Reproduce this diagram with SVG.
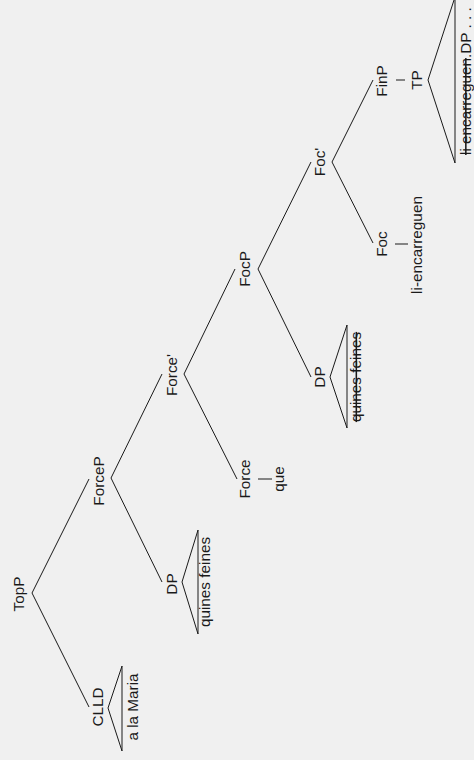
<svg xmlns="http://www.w3.org/2000/svg" width="474" height="760" viewBox="0 0 474 760">
<style>
  .bg { fill: #f0f0f0; }
  text { font-family: "Liberation Sans", Arial, sans-serif; font-size: 15.3px; fill: #1a1a1a; text-anchor: middle; }
  .ln { stroke: #1a1a1a; stroke-width: 1; fill: none; }
  .strike { text-decoration: line-through; }
</style>
<rect class="bg" x="0" y="0" width="474" height="760"/>
<g id="connectors">
  <path class="ln" d="M89,479 L32,593 L89,707"/>
  <path class="ln" d="M162,374 L111,478 L162,582"/>
  <path class="ln" d="M235,269 L184,374 L237,479"/>
  <path class="ln" d="M311,162 L258,269 L311,377"/>
  <path class="ln" d="M373,80 L332,162 L373,243"/>
  <path class="ln" d="M258,479 L272,479"/>
  <path class="ln" d="M395,244 L408,244"/>
  <path class="ln" d="M396,80 L405,80"/>
  <path class="ln" d="M122,666 L108,708 L122,751 Z"/>
  <path class="ln" d="M198,530 L182,582 L198,634 Z"/>
  <path class="ln" d="M347,325 L330,377 L347,428 Z"/>
  <path class="ln" d="M455,-3 L428,80 L455,163 Z"/>
</g>
<g id="TopP"><text transform="translate(24,594) rotate(-90)">TopP</text></g>
<g id="CLLD"><text transform="translate(103,707) rotate(-90)">CLLD</text>
  <text transform="translate(137.5,707) rotate(-90)">a la Maria</text></g>
<g id="ForceP"><text transform="translate(104,481) rotate(-90)">ForceP</text></g>
<g id="DP1"><text transform="translate(177,584) rotate(-90)">DP</text>
  <text transform="translate(210,582) rotate(-90)">quines feines</text></g>
<g id="ForceBar"><text transform="translate(177,375) rotate(-90)">Force'</text></g>
<g id="Force"><text transform="translate(250,479) rotate(-90)">Force</text>
  <text transform="translate(284,479) rotate(-90)">que</text></g>
<g id="FocP"><text transform="translate(250,269) rotate(-90)">FocP</text></g>
<g id="DP2"><text transform="translate(325,377) rotate(-90)">DP</text>
  <text class="strike" transform="translate(361,377) rotate(-90)">quines feines</text></g>
<g id="FocBar"><text transform="translate(325,162) rotate(-90)">Foc'</text></g>
<g id="Foc"><text transform="translate(387,244) rotate(-90)">Foc</text>
  <text transform="translate(422,245) rotate(-90)">li-encarreguen</text></g>
<g id="FinP"><text transform="translate(387,81) rotate(-90)">FinP</text></g>
<g id="TP"><text transform="translate(422,80) rotate(-90)">TP</text>
  <text transform="translate(470.5,155) rotate(-90)" style="text-anchor:start"><tspan class="strike">li encarreguen</tspan>.DP . . .</text></g>
</svg>
